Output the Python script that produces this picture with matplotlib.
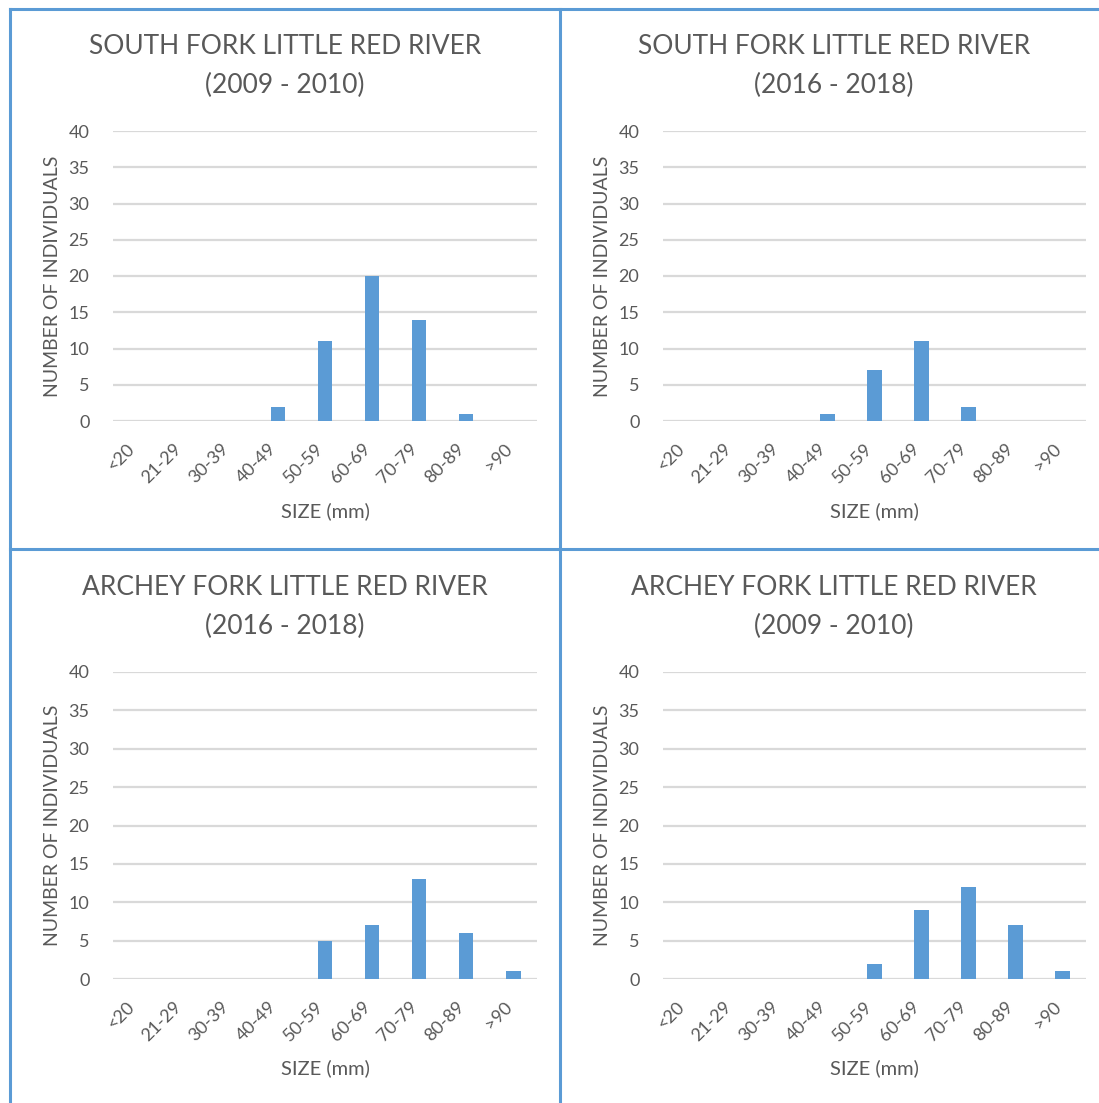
import numpy as np
from matplotlib import pyplot as plt
from matplotlib.lines import Line2D
from matplotlib.transforms import ScaledTranslation

# size classes and counts per panel
sizes = ['<20', '21-29', '30-39', '40-49', '50-59', '60-69', '70-79', '80-89', '>90']
sf_2009 = [0, 0, 0, 2, 11, 20, 14, 1, 0]
sf_2016 = [0, 0, 0, 1, 7, 11, 2, 0, 0]
af_2016 = [0, 0, 0, 0, 5, 7, 13, 6, 1]
af_2009 = [0, 0, 0, 0, 2, 9, 12, 7, 1]

titles = ['SOUTH FORK LITTLE RED RIVER\n(2009 - 2010)',
          'SOUTH FORK LITTLE RED RIVER\n(2016 - 2018)',
          'ARCHEY FORK LITTLE RED RIVER\n(2016 - 2018)',
          'ARCHEY FORK LITTLE RED RIVER\n(2009 - 2010)']
series = [sf_2009, sf_2016, af_2016, af_2009]

plt.rcParams['font.family'] = ['Lato', 'DejaVu Sans']
W, H = 1099, 1103
fig = plt.figure(figsize=(W / 100, H / 100), dpi=100)

grey = '#595959'
blue = '#5b9bd5'

# axes boxes in pixels: x0, x1, ytop, ybottom
boxes = [(113, 537, 131, 421), (663, 1086, 131, 421),
         (113, 537, 672, 979), (663, 1086, 672, 979)]
panel_cx = [285, 834, 285, 834]
title_y = [66, 66, 607, 607]
xlab_y = [511, 511, 1068, 1068]

for k in range(4):
    x0, x1, yt, yb = boxes[k]
    ax = fig.add_axes([x0 / W, 1 - yb / H, (x1 - x0) / W, (yb - yt) / H])
    x = np.arange(len(sizes))
    ax.bar(x, series[k], width=0.3, color=blue, zorder=3)
    ax.set_xlim(-0.5, len(sizes) - 0.5)
    ax.set_ylim(0, 40)
    ax.set_yticks(np.arange(0, 41, 5))
    ax.grid(axis='y', color='#d9d9d9', linewidth=1.6, zorder=0)
    for s in ax.spines.values():
        s.set_visible(False)
    ax.tick_params(length=0, colors=grey, labelsize=13)
    ax.tick_params(axis='y', pad=17)
    ax.set_xticks(x)
    ax.set_xticklabels(sizes, rotation=45, ha='right', va='top', rotation_mode='anchor')
    ax.tick_params(axis='x', pad=14)
    off = ScaledTranslation(-10 / 100, 0, fig.dpi_scale_trans)
    for lab in ax.get_xticklabels():
        lab.set_transform(lab.get_transform() + off)
    ax.set_xlabel('SIZE (mm)', color=grey, fontsize=14.5, va='center')
    ax.xaxis.set_label_coords(0.5, (yb - xlab_y[k]) / (yb - yt))
    ax.set_ylabel('NUMBER OF INDIVIDUALS', color=grey, fontsize=14, va='center')
    ax.yaxis.set_label_coords(-60 / (x1 - x0), 0.5)
    fig.text(panel_cx[k] / W, 1 - title_y[k] / H, titles[k], ha='center', va='center',
             fontsize=19, color=grey, linespacing=1.65)

# panel borders
lw = 2.2
fig.add_artist(Line2D([9.5 / W, 1], [1 - 9 / H, 1 - 9 / H], color=blue, lw=lw))
fig.add_artist(Line2D([9.5 / W, 9.5 / W], [0, 1 - 9 / H], color=blue, lw=lw))
fig.add_artist(Line2D([560 / W, 560 / W], [0, 1 - 9 / H], color=blue, lw=lw))
fig.add_artist(Line2D([9.5 / W, 1], [1 - 549 / H, 1 - 549 / H], color=blue, lw=lw))

plt.savefig('out.png', dpi=100)
